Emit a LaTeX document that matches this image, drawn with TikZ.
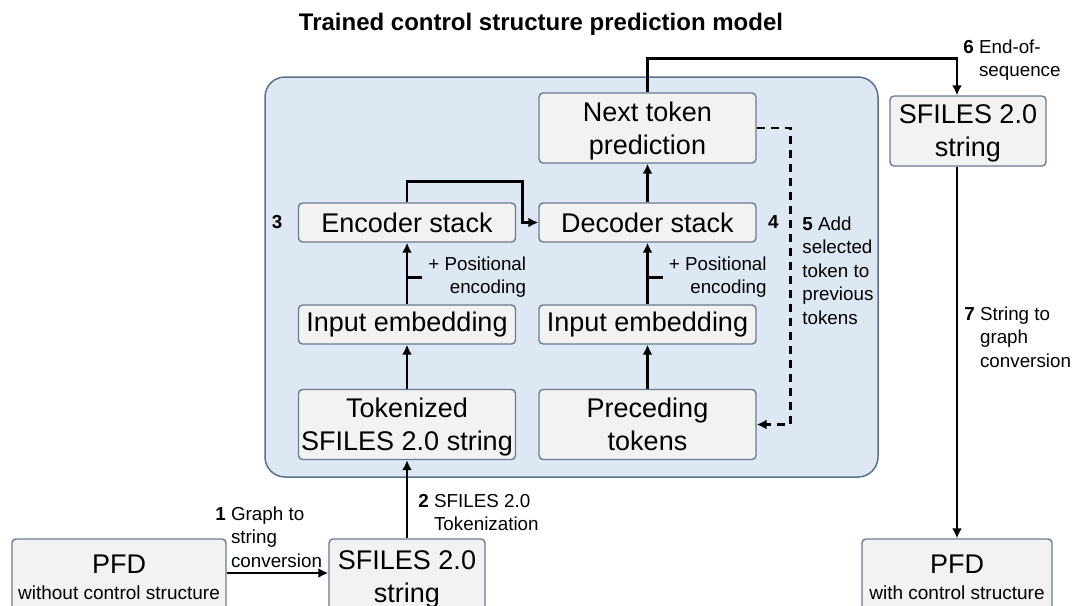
\documentclass[tikz,border=0pt]{standalone}
\usepackage{fontspec}
\setmainfont{Liberation Sans}
\usetikzlibrary{arrows.meta}
\usetikzlibrary{positioning}
\usetikzlibrary{calc}
\definecolor{panelfill}{HTML}{DDE8F4}
\definecolor{paneldraw}{HTML}{5C6F8E}
\definecolor{boxfill}{HTML}{F2F2F2}
\definecolor{boxdraw}{HTML}{6A7A92}

\begin{document}
\begin{tikzpicture}[x=0.5pt,y=-0.5pt,>={Latex[length=5pt,width=5pt]},line width=1.4pt,node distance=51pt]
		\tikzstyle{blk}=[draw=boxdraw,fill=boxfill,line width=0.7pt,rounded corners=2pt,align=center,inner sep=0pt,minimum width=108.5pt,minimum height=19.5pt,font=\fontsize{13.5}{16.5}\selectfont]
		\tikzstyle{tall}=[minimum height=35pt,text depth=0pt]
		\tikzstyle{lbl}=[inner sep=0pt,align=left,font=\fontsize{9.4}{11.75}\selectfont]
		\tikzstyle{num}=[inner sep=0pt,font=\fontsize{9.4}{11.75}\selectfont\bfseries]
		
		\clip (0,0) rectangle (1073,606);
		
		\node[font=\fontsize{12}{14}\selectfont\bfseries] (title) at (541,24) {Trained control structure prediction model};
		\draw[draw=paneldraw,fill=panelfill,line width=0.75pt,rounded corners=10pt] (265,77) rectangle (878,477);
		
		\node[blk]            (enc)  at (407,222.5)   {Encoder stack};
		\node[blk]            (embl) [below of=enc]   {Input embedding};
		\node[blk,tall]       (tokl) [below of=embl,node distance=50pt] {Tokenized\\SFILES 2.0 string};
		\node[blk]            (dec)  at (647.5,222.5) {Decoder stack};
		\node[blk]            (embr) [below of=dec]   {Input embedding};
		\node[blk,tall]       (prec) [below of=embr,node distance=50pt] {Preceding\\tokens};
		\node[blk,tall]       (nxt)  [above of=dec,node distance=47.25pt] {Next token\\prediction};
		\node[blk,tall,minimum width=78pt] (sfr) at (968,131) {SFILES 2.0\\string};
		
		\node[blk,tall,minimum width=78pt,minimum height=38pt]  (sfb)  at (407,577) {SFILES 2.0\\string};
		\node[blk,tall,minimum width=107pt,minimum height=38pt] (pfdl) at (119,577) {PFD\\[-3.5pt]{\fontsize{9.5}{11}\selectfont without control structure}};
		\node[blk,tall,minimum width=95pt,minimum height=38pt]  (pfdr) at (957,577) {PFD\\[-3.5pt]{\fontsize{9.5}{11}\selectfont with control structure}};
		
		\node[num,left=7pt of enc]  {3};
		\node[num,right=5pt of dec] {4};
		
		% model
		\draw[->] (tokl) -- (embl);
		\draw[->] (embl) -- (enc);
		\draw[->] (prec) -- (embr);
		\draw[->] (embr) -- (dec);
		\draw[->] (dec) -- (nxt);
		\draw[->] (enc.north) -- ++(0,-21) -| ($(dec.west)+(-16,0)$) -- (dec.west);
		\draw[->,dash pattern=on 4pt off 3pt] (nxt.east) -- ++(34,0) |- (prec.east);
		
		% positional encoding
		\draw ($(embl.north)!0.44!(enc.south)$) -- ++(15,0) coordinate (pel);
		\draw ($(embr.north)!0.44!(dec.south)$) -- ++(15,0) coordinate (per);
		\node[lbl,align=right,anchor=west] at ([xshift=2.5pt]pel) {+ Positional\\encoding};
		\node[lbl,align=right,anchor=west] at ([xshift=2.5pt]per) {+ Positional\\encoding};
		
		% outside
		\draw[->] ([yshift=2pt]pfdl.east) -- ([yshift=2pt]sfb.west);
		\draw[->] (sfb) -- (tokl);
		\draw[->] (nxt.north) -- ++(0,-34) -| (pfdr.north |- sfr.north);
		\draw[->] (pfdr.north |- sfr.south) -- (pfdr.north);
		
		\node[lbl,anchor=base west] (l1) at (214,520) {\textbf{1} \begin{tabular}[t]{@{}l@{}}Graph to\\string\\conversion\end{tabular}};
		\node[lbl,anchor=base west] (l2) at (417,507) {\textbf{2} \begin{tabular}[t]{@{}l@{}}SFILES 2.0\\Tokenization\end{tabular}};
		\node[lbl,anchor=base west] (l5) at (801,230) {\begin{tabular}[t]{@{}l@{}}\textbf{5} Add\\selected\\token to\\previous\\tokens\end{tabular}};
		\node[lbl,anchor=base west] (l6) at (962,53)  {\textbf{6} \begin{tabular}[t]{@{}l@{}}End-of-\\sequence\end{tabular}};
		\node[lbl,anchor=base west] (l7) at (963,320) {\textbf{7} \begin{tabular}[t]{@{}l@{}}String to\\graph\\conversion\end{tabular}};
\end{tikzpicture}
\end{document}
